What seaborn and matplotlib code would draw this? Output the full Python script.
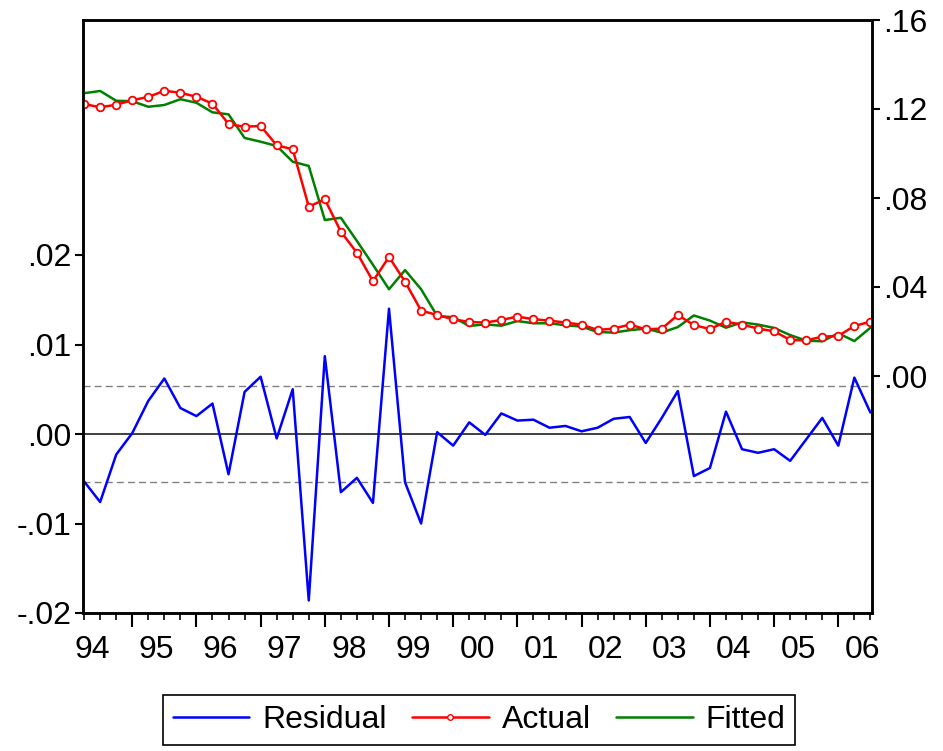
import numpy as np
import pandas as pd
import matplotlib
matplotlib.use("Agg")
import matplotlib.pyplot as plt
from matplotlib.lines import Line2D
import seaborn as sns

# quarterly sample 1994Q2 - 2006Q3
year_labels = ["94", "95", "96", "97", "98", "99", "00", "01", "02", "03", "04", "05", "06"]
year_q1_index = [-1, 3, 7, 11, 15, 19, 23, 27, 31, 35, 39, 43, 47]

actual = [0.1222, 0.1208, 0.1219, 0.1240, 0.1254, 0.1282, 0.1273, 0.1255, 0.1224, 0.1133,
          0.1120, 0.1124, 0.1037, 0.1019, 0.0761, 0.0794, 0.0649, 0.0554, 0.0426, 0.0535,
          0.0424, 0.0294, 0.0274, 0.0255, 0.0243, 0.0240, 0.0252, 0.0267, 0.0255, 0.0249,
          0.0240, 0.0231, 0.0207, 0.0213, 0.0231, 0.0210, 0.0213, 0.0274, 0.0229, 0.0211,
          0.0244, 0.0231, 0.0213, 0.0201, 0.0162, 0.0160, 0.0177, 0.0180, 0.0225, 0.0244]
fitted = [0.1271, 0.1281, 0.1237, 0.1235, 0.1210, 0.1218, 0.1244, 0.1228, 0.1185, 0.1176,
          0.1070, 0.1053, 0.1034, 0.0963, 0.0944, 0.0701, 0.0711, 0.0607, 0.0500, 0.0390,
          0.0476, 0.0390, 0.0270, 0.0264, 0.0225, 0.0232, 0.0226, 0.0247, 0.0237, 0.0237,
          0.0228, 0.0222, 0.0198, 0.0195, 0.0206, 0.0213, 0.0195, 0.0220, 0.0272, 0.0249,
          0.0217, 0.0241, 0.0231, 0.0216, 0.0184, 0.0159, 0.0156, 0.0192, 0.0157, 0.0217]
residual = [-0.0053, -0.0076, -0.0023, 0.0001, 0.0037, 0.0062, 0.0029, 0.0020, 0.0034, -0.0045,
            0.0047, 0.0064, -0.0005, 0.0050, -0.0186, 0.0087, -0.0065, -0.0049, -0.0077, 0.0140,
            -0.0054, -0.0100, 0.0002, -0.0013, 0.0013, -0.0001, 0.0023, 0.0015, 0.0016, 0.0007,
            0.0009, 0.0003, 0.0007, 0.0017, 0.0019, -0.0010, 0.0018, 0.0048, -0.0047, -0.0038,
            0.0025, -0.0017, -0.0021, -0.0017, -0.0030, -0.0006, 0.0018, -0.0013, 0.0063, 0.0024]
resid_band = 0.0054

left_ticks = [-0.02, -0.01, 0.00, 0.01, 0.02]
right_ticks = [0.00, 0.04, 0.08, 0.12, 0.16]

df = pd.DataFrame({"obs": np.arange(len(actual)), "Actual": actual,
                   "Fitted": fitted, "Residual": residual})

sns.set_style("ticks")
plt.rcParams["font.family"] = ["Liberation Sans", "DejaVu Sans"]
plt.rcParams["text.color"] = "black"
plt.rcParams["xtick.color"] = "black"
plt.rcParams["ytick.color"] = "black"
FS = 23


def fmt(v):
    s = f"{v:.2f}"
    return s.replace("0.", ".")


fig = plt.figure(figsize=(9.43, 7.51), dpi=100)
ax = fig.add_axes([82.5 / 943, 1 - 613 / 751, (872 - 82.5) / 943, (613 - 20) / 751])
ax2 = ax.twinx()

# residual on left axis
ax.axhline(0, color="#404040", lw=1.4, zorder=1)
ax.axhline(resid_band, color="#808080", lw=1.0, ls=(0, (5, 3)), zorder=1)
ax.axhline(-resid_band, color="#808080", lw=1.0, ls=(0, (5, 3)), zorder=1)
sns.lineplot(data=df, x="obs", y="Residual", ax=ax, color="#0000FF", lw=1.8, legend=False)

# actual / fitted on right axis
sns.lineplot(data=df, x="obs", y="Fitted", ax=ax2, color="#008000", lw=1.8, legend=False)
sns.lineplot(data=df, x="obs", y="Actual", ax=ax2, color="#FF0000", lw=1.8, marker="o",
             markersize=5.5, markerfacecolor="white", markeredgecolor="#FF0000",
             markeredgewidth=1.3, legend=False)

ax.set_xlim(-0.1, 49.1)
ax.set_ylim(-0.02, (434 - 20) / 8950)
ax2.set_ylim(-(613 - 376) / 2225, 0.16)

ax.set_yticks(left_ticks, [fmt(v) for v in left_ticks])
ax2.set_yticks(right_ticks, [fmt(v) for v in right_ticks])
ax.set_xlabel("")
ax.set_ylabel("")
ax2.set_ylabel("")

# x ticks: every quarter minor, Q1 major; year labels centred on each year
ax.set_xticks([q for q in year_q1_index if q >= 0])
ax.set_xticks(df["obs"], minor=True)
ax.tick_params(axis="x", which="major", length=10, width=1.5, labelbottom=False, direction="out")
ax.tick_params(axis="x", which="minor", length=5, width=1.2, direction="out")
sec = ax.secondary_xaxis("bottom")
sec.set_xticks([q + 1.5 for q in year_q1_index], year_labels)
sec.tick_params(length=0, pad=16, labelsize=FS)
sec.spines["bottom"].set_visible(False)

ax.tick_params(axis="y", length=6, width=1.5, labelsize=FS, pad=2, direction="out")
ax2.tick_params(axis="y", length=6, width=1.5, labelsize=FS, pad=2, direction="out")

for a in (ax, ax2):
    for sp in a.spines.values():
        sp.set_visible(True)
        sp.set_linewidth(1.8)
        sp.set_color("black")

handles = [
    Line2D([], [], color="#0000FF", lw=1.8),
    Line2D([], [], color="#FF0000", lw=1.8, marker="o", markersize=4,
           markerfacecolor="white", markeredgecolor="#FF0000"),
    Line2D([], [], color="#008000", lw=1.8),
]
leg = fig.legend(handles, ["Residual", "Actual", "Fitted"], loc="center",
                 bbox_to_anchor=(479 / 943, 1 - 720 / 751), ncol=3, fontsize=FS,
                 frameon=True, fancybox=False, framealpha=1, edgecolor="black",
                 handlelength=2.4, columnspacing=0.8, handletextpad=0.4,
                 borderpad=0.3)
leg.get_frame().set_linewidth(1.2)

fig.savefig("out.png", dpi=100)
